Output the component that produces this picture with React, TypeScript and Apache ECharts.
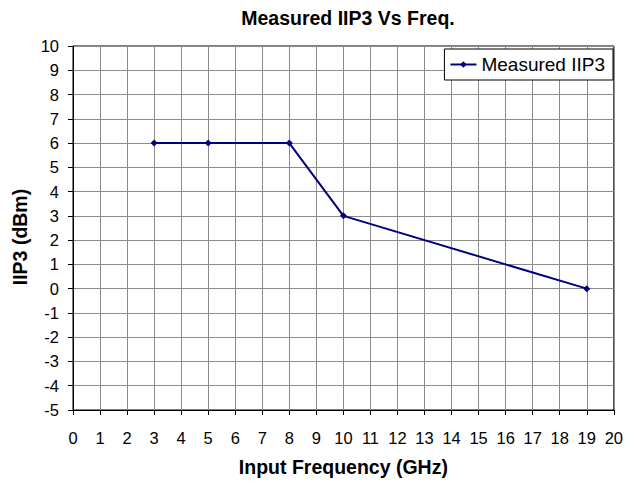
import React, { useEffect, useRef } from "react";
import * as echarts from "echarts";

const freqs = [3, 5, 8, 10, 19];
const iip3 = [6, 6, 6, 3, 0];
const seriesName = "Measured IIP3";

export default function App() {
  const ref = useRef<HTMLDivElement>(null);
  useEffect(() => {
    const chart = echarts.init(ref.current!, null, { renderer: "svg" });
    const font = "Liberation Sans, Arial, sans-serif";
    chart.setOption({
      animation: false,
      backgroundColor: "#fff",
      title: {
        text: "Measured IIP3 Vs Freq.",
        left: 343,
        top: 3,
        textAlign: "center",
        textStyle: { fontFamily: font, fontSize: 19.5, fontWeight: "bold", color: "#000" },
      },
      grid: {
        left: 73,
        right: 11,
        top: 46,
        bottom: 71,
        show: true,
        borderColor: "#000",
        borderWidth: 1,
        backgroundColor: "#fff",
      },
      legend: {
        right: 13,
        top: 49,
        orient: "vertical",
        backgroundColor: "#fff",
        borderColor: "#000",
        borderWidth: 1,
        padding: [6, 8, 6, 5],
        itemWidth: 26,
        itemHeight: 8,
        itemGap: 4,
        textStyle: { fontFamily: font, fontSize: 19, color: "#000" },
        data: [seriesName],
      },
      xAxis: {
        type: "value",
        min: 0,
        max: 20,
        interval: 1,
        name: "Input Frequency (GHz)",
        nameLocation: "middle",
        nameGap: 47,
        nameTextStyle: { fontFamily: font, fontSize: 19.5, fontWeight: "bold", color: "#000" },
        axisLine: { onZero: false, lineStyle: { color: "#000", width: 1 } },
        axisTick: { show: true, inside: false, length: 5, lineStyle: { color: "#000" } },
        axisLabel: { fontFamily: font, fontSize: 16.5, color: "#000", margin: 19 },
        splitLine: { show: true, lineStyle: { color: "#8c8c8c", width: 1 } },
      },
      yAxis: {
        type: "value",
        min: -5,
        max: 10,
        interval: 1,
        name: "IIP3 (dBm)",
        nameLocation: "middle",
        nameGap: 42,
        nameTextStyle: { fontFamily: font, fontSize: 19.5, fontWeight: "bold", color: "#000", padding: [0, 18, 0, 0] },
        axisLine: { show: true, lineStyle: { color: "#000", width: 1 } },
        axisTick: { show: true, inside: false, length: 5, lineStyle: { color: "#000" } },
        axisLabel: { fontFamily: font, fontSize: 16.5, color: "#000", margin: 14 },
        splitLine: { show: true, lineStyle: { color: "#8c8c8c", width: 1 } },
      },
      series: [
        {
          name: seriesName,
          type: "line",
          data: freqs.map((f, i) => [f, iip3[i]]),
          color: "#000080",
          lineStyle: { color: "#000080", width: 2 },
          itemStyle: { color: "#000080" },
          symbol: "diamond",
          symbolSize: 7,
          showSymbol: true,
        },
      ],
    });
    return () => chart.dispose();
  }, []);
  return <div ref={ref} style={{ position: "fixed", left: 0, top: 0, width: 626, height: 482 }} />;
}
